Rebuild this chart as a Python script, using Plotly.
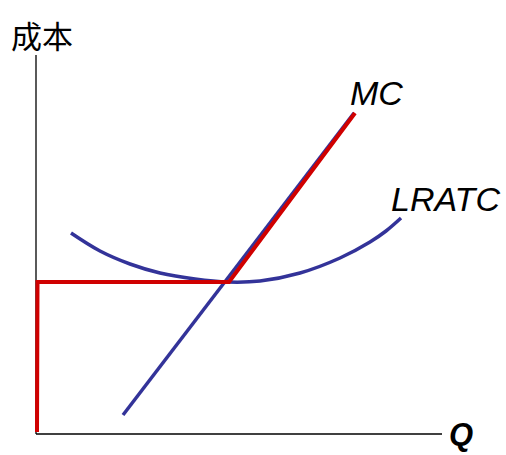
import plotly.graph_objects as go

H = 455
# Quantities / costs (chart units, y measured upward from the bottom edge)
lratc_q = [71, 100, 130, 160, 195, 228, 260, 300, 340, 370, 386, 401]
lratc_c = [222, 204, 191, 182, 176, 173, 174, 182, 197, 213, 224, 237]

mc_q = [123, 354]
mc_c = [40, 342]

supply_q = [37, 37.5, 229, 355]
supply_c = [23, 173, 173, 342]

axis_x_q = [36, 442]
axis_x_c = [21, 21]
axis_y_q = [36, 36]
axis_y_c = [21, 400]

fig = go.Figure()
fig.add_trace(go.Scatter(x=axis_y_q, y=axis_y_c, mode="lines",
                         line=dict(color="black", width=1.3), hoverinfo="skip"))
fig.add_trace(go.Scatter(x=axis_x_q, y=axis_x_c, mode="lines",
                         line=dict(color="black", width=1.3), hoverinfo="skip"))
fig.add_trace(go.Scatter(x=lratc_q, y=lratc_c, mode="lines",
                         line=dict(color="#333399", width=3.5, shape="spline", smoothing=1.0),
                         hoverinfo="skip"))
fig.add_trace(go.Scatter(x=mc_q, y=mc_c, mode="lines",
                         line=dict(color="#333399", width=3.5), hoverinfo="skip"))
fig.add_trace(go.Scatter(x=supply_q, y=supply_c, mode="lines",
                         line=dict(color="#D00000", width=4), hoverinfo="skip"))

fig.add_annotation(x=42, y=H - 34, text="成本", showarrow=False,
                   font=dict(family="Noto Sans CJK SC", size=31, color="black"))
fig.add_annotation(x=376, y=H - 93, text="<i>MC</i>", showarrow=False,
                   font=dict(family="Liberation Sans", size=34, color="black"))
fig.add_annotation(x=445, y=H - 199, text="<i>LRATC</i>", showarrow=False,
                   font=dict(family="Liberation Sans", size=34, color="black"))
fig.add_annotation(x=461, y=H - 434, text="<b><i>Q</i></b>", showarrow=False,
                   font=dict(family="Liberation Sans", size=31, color="black"))

fig.update_layout(
    width=506, height=455, margin=dict(l=0, r=0, t=0, b=0),
    paper_bgcolor="white", plot_bgcolor="white", showlegend=False,
    xaxis=dict(range=[0, 506], visible=False, fixedrange=True),
    yaxis=dict(range=[0, H], visible=False, fixedrange=True),
)
fig.write_html("out.html", config={"displayModeBar": False},
               post_script="document.body.style.margin='0';document.body.style.overflow='hidden';")
